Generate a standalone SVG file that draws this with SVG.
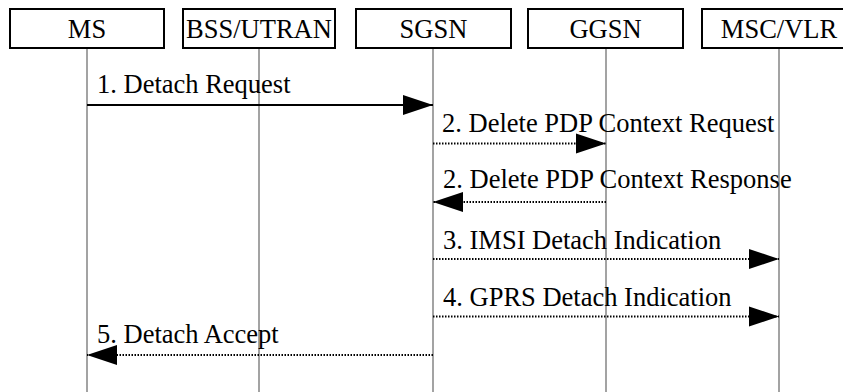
<svg xmlns="http://www.w3.org/2000/svg" width="843" height="392" viewBox="0 0 843 392">
<style>
.box{fill:#fff;stroke:#000;stroke-width:2}
.lbl{font-family:"Liberation Serif","Times New Roman",serif;font-size:26.5px;fill:#000}
.mid{text-anchor:middle}
.life{stroke:#666;stroke-width:1.2;fill:none}
.solid{stroke:#000;stroke-width:2;fill:none;marker-end:url(#ah)}
.dot{stroke:#000;stroke-width:2;fill:none;stroke-dasharray:1.5 1.5;marker-end:url(#ah)}
</style>
<defs>
<marker id="ah" markerUnits="userSpaceOnUse" markerWidth="30" markerHeight="20" refX="30" refY="10" orient="auto" overflow="visible">
<path d="M0,0 L30,10 L0,20 Z" fill="#000" stroke="none"/>
</marker>
</defs>
<rect width="843" height="392" fill="#fff"/>
<g id="lifelines">
<line class="life" x1="87" y1="48" x2="87" y2="392"/>
<line class="life" x1="259" y1="48" x2="259" y2="392"/>
<line class="life" x1="433" y1="48" x2="433" y2="392"/>
<line class="life" x1="606" y1="48" x2="606" y2="392"/>
<line class="life" x1="779" y1="48" x2="779" y2="392"/>
</g>
<g id="node-ms"><rect class="box" x="10" y="9" width="154" height="39"/><text class="lbl mid" x="87" y="37.5">MS</text></g>
<g id="node-bss"><rect class="box" x="183" y="9" width="152" height="39"/><text class="lbl mid" x="259" y="37.5">BSS/UTRAN</text></g>
<g id="node-sgsn"><rect class="box" x="356" y="9" width="155" height="39"/><text class="lbl mid" x="433.5" y="37.5">SGSN</text></g>
<g id="node-ggsn"><rect class="box" x="528" y="9" width="155" height="39"/><text class="lbl mid" x="605.5" y="37.5">GGSN</text></g>
<g id="node-msc"><rect class="box" x="702" y="9" width="155" height="39"/><text class="lbl mid" x="779" y="37.5">MSC/VLR</text></g>
<g id="connectors">
<line class="solid" x1="87" y1="105" x2="433" y2="105"/>
<text class="lbl" x="97" y="93">1. Detach Request</text>
<line class="dot" x1="433" y1="143.5" x2="606" y2="143.5"/>
<text class="lbl" x="442" y="132">2. Delete PDP Context Request</text>
<line class="dot" x1="606" y1="202" x2="433" y2="202"/>
<text class="lbl" x="443" y="188">2. Delete PDP Context Response</text>
<line class="dot" x1="433" y1="259" x2="779" y2="259"/>
<text class="lbl" x="443" y="249">3. IMSI Detach Indication</text>
<line class="dot" x1="433" y1="316.5" x2="779" y2="316.5"/>
<text class="lbl" x="443" y="305.5">4. GPRS Detach Indication</text>
<line class="dot" x1="433" y1="355" x2="87" y2="355"/>
<text class="lbl" x="97" y="343">5. Detach Accept</text>
</g>
</svg>
